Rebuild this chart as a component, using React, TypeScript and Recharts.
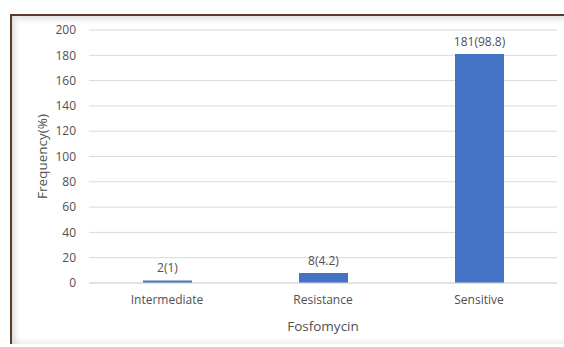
import { BarChart, Bar, XAxis, YAxis, CartesianGrid, LabelList } from 'recharts';

const categories = ['Intermediate', 'Resistance', 'Sensitive'];
const counts = [2, 8, 181];
const percents = [1, 4.2, 98.8];
const yTicks = [0, 20, 40, 60, 80, 100, 120, 140, 160, 180, 200];

const data = categories.map((name, i) => ({
  name,
  value: counts[i],
  label: `${counts[i]}(${percents[i]})`,
}));

const TEXT = '#505050';
const FONT = '"Open Sans", sans-serif';

export default function App() {
  return (
    <div style={{ position: 'fixed', left: 0, top: 0, width: 564, height: 347, background: '#fff', fontFamily: FONT }}>
      <div
        style={{
          position: 'absolute',
          left: 10,
          top: 14,
          width: 560,
          height: 328,
          borderLeft: '2px solid #5b3b25',
          borderTop: '2px solid #5b3b25',
          boxShadow: 'inset 4px 4px 5px rgba(0,0,0,0.1), inset 0 -4px 4px rgba(0,0,0,0.06)',
          background: '#fff',
        }}
      />
      <div style={{ position: 'absolute', left: 0, top: 0 }}>
        <BarChart width={564} height={347} data={data} margin={{ top: 30, right: 7, bottom: 14, left: 39 }}>
          <CartesianGrid vertical={false} stroke="#d9d9d9" />
          <XAxis
            dataKey="name"
            height={50}
            tickLine={false}
            tickSize={0}
            tickMargin={12}
            axisLine={{ stroke: '#d9d9d9' }}
            tick={{ fill: TEXT, fontSize: 12, fontFamily: FONT }}
            label={{ value: 'Fosfomycin', position: 'insideBottom', offset: 2, fill: TEXT, fontSize: 13.5, fontFamily: FONT }}
          />
          <YAxis
            width={50}
            domain={[0, 200]}
            ticks={yTicks}
            interval={0}
            tickLine={false}
            axisLine={false}
            tickSize={0}
            tickMargin={13}
            tick={{ fill: TEXT, fontSize: 12, fontFamily: FONT }}
            label={{ value: 'Frequency(%)', angle: -90, position: 'insideLeft', offset: 3, fill: TEXT, fontSize: 13.5, fontFamily: FONT, style: { textAnchor: 'middle' } }}
          />
          <Bar dataKey="value" fill="#4472c4" barSize={49} isAnimationActive={false}>
            <LabelList dataKey="label" position="top" offset={8} fill={TEXT} fontSize={12} fontFamily={FONT} />
          </Bar>
        </BarChart>
      </div>
    </div>
  );
}
